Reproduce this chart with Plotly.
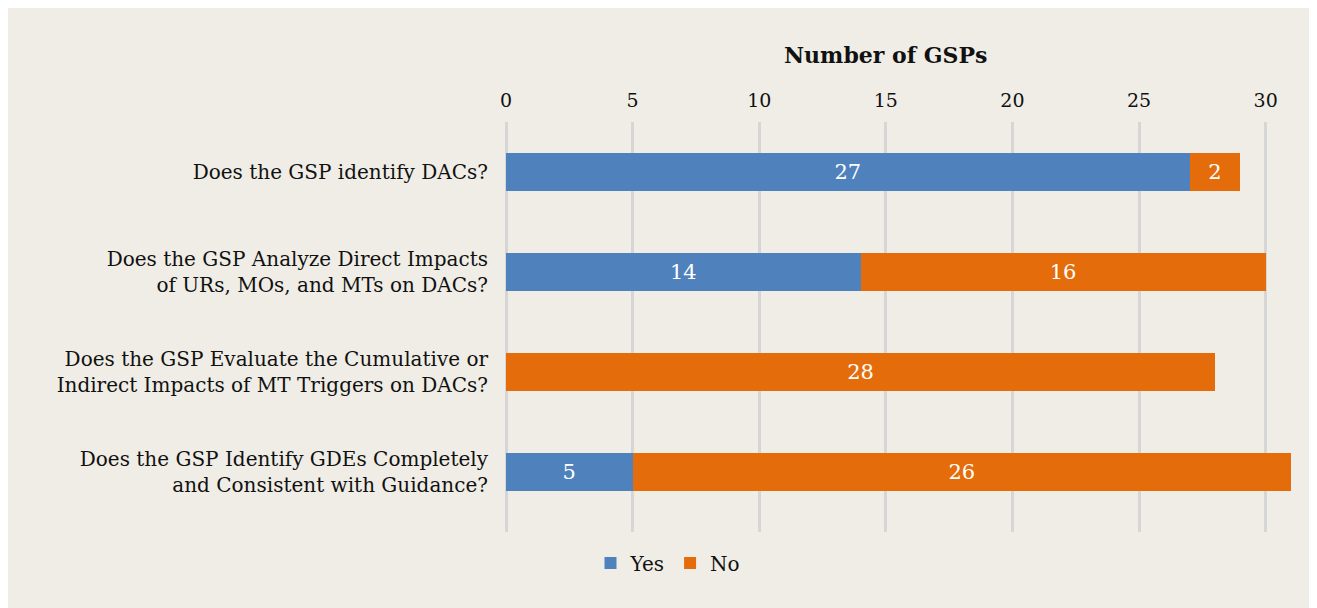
import plotly.graph_objects as go

categories = [
    "Does the GSP identify DACs?",
    "Does the GSP Analyze Direct Impacts<br>of URs, MOs, and MTs on DACs?",
    "Does the GSP Evaluate the Cumulative or<br>Indirect Impacts of MT Triggers on DACs?",
    "Does the GSP Identify GDEs Completely<br>and Consistent with Guidance?",
]
yes_vals = [27, 14, 0, 5]
no_vals = [2, 16, 28, 26]
series_names = ["Yes", "No"]
tick_vals = [0, 5, 10, 15, 20, 25, 30]

BLUE = "#4F81BD"
ORANGE = "#E46C0A"
BG = "#EFEDE6"
FONT = "DejaVu Serif"

def labels(vals):
    return [str(v) if v else "" for v in vals]

fig = go.Figure()
fig.add_trace(go.Bar(
    y=categories, x=yes_vals, name=series_names[0], orientation="h",
    marker=dict(color=BLUE, line=dict(width=0)), width=0.38,
    text=labels(yes_vals), textposition="inside", insidetextanchor="middle",
    textfont=dict(color="white", size=21, family=FONT),
))
fig.add_trace(go.Bar(
    y=categories, x=no_vals, name=series_names[1], orientation="h",
    marker=dict(color=ORANGE, line=dict(width=0)), width=0.38,
    text=labels(no_vals), textposition="inside", insidetextanchor="middle",
    textfont=dict(color="white", size=21, family=FONT),
))

# page has an 8px body margin; figure starts at (8, 8)
OFF = 8
W, H = 1304, 600
L, T = 506 - OFF, 122 - OFF
R = W - (1291 - OFF)
B = H - (532 - OFF)
pw = W - L - R
ph = H - T - B

def px_x(p):
    return (p - OFF - L) / pw

def px_y(p):
    return (H - B - (p - OFF)) / ph

fig.add_annotation(text="<b>Number of GSPs</b>", xref="paper", yref="paper",
                   x=px_x(885), y=px_y(55), showarrow=False,
                   font=dict(size=22, family=FONT, color="#111111"),
                   xanchor="center", yanchor="middle")

fig.update_layout(
    width=W, height=H,
    margin=dict(l=L, r=R, t=T, b=B),
    paper_bgcolor=BG,
    plot_bgcolor=BG,
    barmode="stack",
    font=dict(family=FONT, size=20, color="#111111"),
    showlegend=True,
    legend=dict(orientation="h", xref="paper", yref="paper",
                x=px_x(668), y=px_y(563), xanchor="center", yanchor="middle",
                font=dict(size=20, family=FONT), bgcolor="rgba(0,0,0,0)",
                itemwidth=30, traceorder="normal"),
    xaxis=dict(side="top", range=[0, 31], tickvals=tick_vals,
               showgrid=True, gridcolor="#D6D6D6", gridwidth=2.5,
               zeroline=True, zerolinecolor="#D6D6D6", zerolinewidth=2.5,
               showline=False, ticks="", ticklabelstandoff=10,
               tickfont=dict(size=19, family=FONT, color="#111111"),
               fixedrange=True),
    yaxis=dict(range=[3.6, -0.5], autorange=False, showgrid=False,
               zeroline=False, showline=False, ticks="",
               ticklabelstandoff=17,
               tickfont=dict(size=20, family=FONT, color="#111111"),
               fixedrange=True),
)

fig.write_html("out.html")
